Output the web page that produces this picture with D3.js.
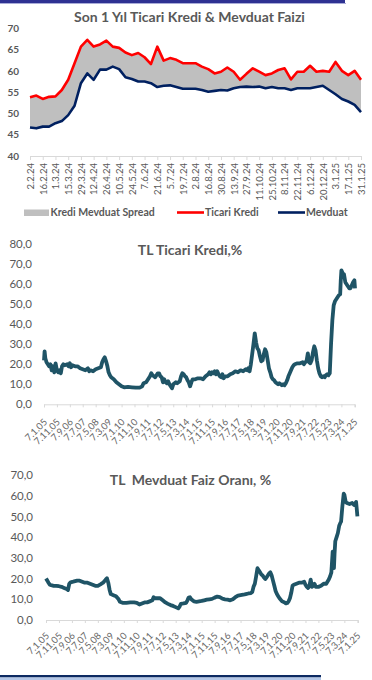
<!DOCTYPE html>
<html><head><meta charset="utf-8">
<script src="https://cdn.jsdelivr.net/npm/d3@7"></script>
<style>body{margin:0;background:#fff}svg{display:block}text{font-family:Lato,"Open Sans",sans-serif}</style>
</head><body><svg id="c" width="372" height="680"></svg>
<script>
// ---------- Chart 1: Son 1 Yıl ----------
const weekDates = ["2.2.24","9.2.24","16.2.24","23.2.24","1.3.24","8.3.24","15.3.24","22.3.24","29.3.24","5.4.24","12.4.24","19.4.24","26.4.24","3.5.24","10.5.24","17.5.24","24.5.24","31.5.24","7.6.24","14.6.24","21.6.24","28.6.24","5.7.24","12.7.24","19.7.24","26.7.24","2.8.24","9.8.24","16.8.24","23.8.24","30.8.24","6.9.24","13.9.24","20.9.24","27.9.24","4.10.24","11.10.24","18.10.24","25.10.24","1.11.24","8.11.24","15.11.24","22.11.24","29.11.24","6.12.24","13.12.24","20.12.24","27.12.24","3.1.25","10.1.25","17.1.25","24.1.25","31.1.25"];
const ticariKredi = [53.8,54.2,53.4,53.9,54.0,55.5,57.9,61.8,65.7,67.3,65.7,66.2,67.1,65.7,65.4,64.3,63.7,64.2,63.2,61.6,65.7,62.4,63.0,62.6,61.8,61.8,61.8,61.0,60.4,59.4,59.8,60.8,59.8,57.9,59.3,60.6,59.8,59.0,59.4,60.2,60.6,58.0,59.8,59.8,61.2,59.8,60.0,59.8,62.1,60.0,59.0,60.0,57.9];
const mevduat = [46.7,46.5,46.9,46.9,47.7,48.2,49.6,51.8,57.1,59.4,57.9,60.3,60.3,61.0,60.4,58.5,58.1,57.5,57.5,57.1,56.2,56.5,56.6,56.2,55.8,55.8,55.8,55.5,55.1,55.3,55.5,55.4,55.9,56.2,56.3,56.2,56.3,55.9,56.2,55.9,55.9,55.5,55.9,55.9,55.9,56.2,56.5,55.5,54.5,53.4,52.8,52.0,50.3];
const chart1YTicks = [40,45,50,55,60,65,70];
const chart1XTicks = weekDates.filter((d,i)=>i%2===0);
const legendLabels = ["Kredi Mevduat Spread","Ticari Kredi","Mevduat"];

// ---------- Chart 2: TL Ticari Kredi ----------
const krediDates = ["2005-01-07","2005-01-21","2005-02-07","2005-03-07","2005-04-07","2005-05-07","2005-06-07","2005-07-07","2005-08-07","2005-09-07","2005-10-07","2005-11-07","2005-12-07","2006-01-07","2006-02-07","2006-03-07","2006-04-07","2006-05-07","2006-07-07","2006-08-07","2006-09-07","2006-10-07","2006-11-07","2007-01-07","2007-03-07","2007-05-07","2007-07-07","2007-09-07","2007-11-07","2007-12-07","2008-01-07","2008-03-07","2008-05-07","2008-07-07","2008-09-07","2008-10-07","2008-11-07","2008-12-07","2009-01-07","2009-02-07","2009-03-07","2009-04-07","2009-05-07","2009-07-07","2009-09-07","2009-11-07","2010-01-07","2010-03-07","2010-06-07","2010-09-07","2010-12-07","2011-03-07","2011-05-07","2011-06-07","2011-08-07","2011-09-07","2011-11-07","2011-12-07","2012-01-07","2012-02-07","2012-03-07","2012-04-07","2012-05-07","2012-06-07","2012-07-07","2012-08-07","2012-09-07","2012-10-07","2012-11-07","2012-12-07","2013-01-07","2013-02-07","2013-03-07","2013-04-07","2013-05-07","2013-06-07","2013-07-07","2013-08-07","2013-09-07","2013-10-07","2013-11-07","2013-12-07","2014-01-07","2014-02-07","2014-03-07","2014-04-07","2014-05-07","2014-06-07","2014-07-07","2014-08-07","2014-10-07","2014-12-07","2015-02-07","2015-04-07","2015-06-07","2015-08-07","2015-09-07","2015-10-07","2015-11-07","2015-12-07","2016-01-07","2016-02-07","2016-03-07","2016-04-07","2016-05-07","2016-06-07","2016-07-07","2016-08-07","2016-09-07","2016-11-07","2017-01-07","2017-03-07","2017-05-07","2017-07-07","2017-09-07","2017-11-07","2018-01-07","2018-02-07","2018-03-07","2018-04-07","2018-05-07","2018-06-07","2018-07-07","2018-08-07","2018-09-07","2018-10-07","2018-11-07","2018-12-07","2019-01-07","2019-02-07","2019-03-07","2019-04-07","2019-05-07","2019-06-07","2019-07-07","2019-08-07","2019-09-07","2019-10-07","2019-11-07","2019-12-07","2020-01-07","2020-02-07","2020-03-07","2020-04-07","2020-05-07","2020-06-07","2020-07-07","2020-08-07","2020-09-07","2020-10-07","2020-11-07","2020-12-07","2021-01-07","2021-02-07","2021-03-07","2021-05-07","2021-07-07","2021-09-07","2021-10-07","2021-11-07","2021-12-07","2022-01-07","2022-02-07","2022-03-07","2022-04-07","2022-05-07","2022-06-07","2022-07-07","2022-08-07","2022-09-07","2022-10-07","2022-11-07","2022-12-07","2023-01-07","2023-02-07","2023-03-07","2023-04-07","2023-05-07","2023-06-07","2023-07-07","2023-08-07","2023-09-07","2023-10-07","2023-11-07","2023-12-07","2024-01-07","2024-02-07","2024-02-21","2024-03-07","2024-04-07","2024-05-07","2024-06-07","2024-07-07","2024-08-07","2024-09-07","2024-10-07","2024-11-07","2024-12-07","2025-01-07","2025-01-21"];
const krediValues = [22,26.5,23,21,20,19,20,17,19,16,20.5,17,16,17,15.5,19,20,19.5,20,19,20.5,18.5,19.5,19,19,18,17.5,17,18,16.5,17,16.5,17.5,18,18.5,21,22.5,23.5,21.5,19,16,14.5,13.5,12.5,11,10,9,8.5,8.7,8.5,8.3,8.3,9,10.5,11,12,14,15.5,14.5,14,13.5,14.5,15.5,15.5,14,13.5,11,12.5,11,10.5,11.5,10,9,8,10,10.5,11,10.5,11,11.5,14,15.5,15,14,13.5,12,11,9,11,12.5,12.5,13,13,12.5,14,15,16,15,16,15.5,16.5,15,16.5,15,14,13.5,15,13,14,14,15,15.5,16.5,16,17,16.5,17.5,17,18,16.5,20,25,30,35.5,31,28,27,24,21.5,22,25,27.5,26,22,18,16,13.5,12.5,12,11,10.5,10,10.5,10,9.5,10,9.5,10.5,12,14,15.5,17,18.5,19.5,20,20.5,20.5,21,20,21,21.5,25.5,21,20.5,22,26,29,27,22,18,15.5,14,13.5,14,13.5,14.5,15,14.5,15.5,30,42,49.5,51.5,52.5,53.5,54.5,55,62,67,65.5,65,61,60,59,58,58,59.5,61,62,58];

// ---------- Chart 3: TL Mevduat ----------
const mevduatDates = ["2005-01-07","2005-02-07","2005-03-07","2005-04-07","2005-05-07","2005-07-07","2005-09-07","2005-11-07","2006-01-07","2006-03-07","2006-05-07","2006-06-07","2006-07-07","2006-08-07","2006-10-07","2007-01-07","2007-03-07","2007-05-07","2007-07-07","2007-09-07","2007-11-07","2008-01-07","2008-03-07","2008-05-07","2008-07-07","2008-09-07","2008-11-07","2008-12-07","2009-01-07","2009-02-07","2009-03-07","2009-05-07","2009-07-07","2009-09-07","2009-10-07","2009-12-07","2010-03-07","2010-06-07","2010-09-07","2010-11-07","2011-01-07","2011-03-07","2011-05-07","2011-07-07","2011-09-07","2011-11-07","2011-12-07","2012-01-07","2012-03-07","2012-05-07","2012-07-07","2012-09-07","2012-11-07","2013-01-07","2013-03-07","2013-05-07","2013-07-07","2013-08-07","2013-09-07","2013-11-07","2014-01-07","2014-02-07","2014-03-07","2014-04-07","2014-05-07","2014-07-07","2014-09-07","2014-11-07","2015-01-07","2015-03-07","2015-05-07","2015-07-07","2015-09-07","2015-11-07","2016-01-07","2016-03-07","2016-05-07","2016-07-07","2016-09-07","2016-11-07","2017-01-07","2017-03-07","2017-05-07","2017-07-07","2017-09-07","2017-11-07","2018-01-07","2018-03-07","2018-04-07","2018-05-07","2018-06-07","2018-07-07","2018-08-07","2018-09-07","2018-10-07","2018-11-07","2018-12-07","2019-01-07","2019-02-07","2019-03-07","2019-04-07","2019-05-07","2019-06-07","2019-07-07","2019-08-07","2019-09-07","2019-10-07","2019-11-07","2019-12-07","2020-01-07","2020-03-07","2020-05-07","2020-06-07","2020-07-07","2020-08-07","2020-09-07","2020-10-07","2020-11-07","2020-12-07","2021-02-07","2021-04-07","2021-06-07","2021-08-07","2021-09-07","2021-10-07","2021-11-07","2021-12-07","2022-01-07","2022-02-07","2022-03-07","2022-04-07","2022-05-07","2022-07-07","2022-09-07","2022-11-07","2023-01-07","2023-03-07","2023-04-07","2023-05-07","2023-06-07","2023-06-17","2023-06-26","2023-07-07","2023-07-21","2023-08-07","2023-09-07","2023-10-07","2023-11-07","2023-12-07","2023-12-21","2024-01-21","2024-02-21","2024-03-07","2024-04-07","2024-05-07","2024-07-07","2024-09-07","2024-10-21","2024-11-21","2024-12-07","2024-12-21","2025-01-07"];
const mevduatValues = [20,19,18,17,16.8,16.5,16.5,16.3,16,15.5,15,14.5,17.5,18.2,18.5,19,19,18.5,18,18,17.5,17,16.5,16.5,17.2,18,19.5,20.2,18,14.5,12.5,12,11.5,10,8.8,8.3,8.3,8.5,8.5,8.3,7.5,8,8.5,8.5,9,9.5,11,10.5,10.5,10.5,9.5,8.5,7.8,7.2,6.8,6.2,5.6,6.5,7.8,8,8.3,9.5,10.8,11,10,9,8.8,9,9.2,9.5,9.8,10,10.2,10.8,11.3,11,10.3,10,9.8,9.5,10,11,11.8,12,12.2,12.5,12.8,13,13.5,16,17.5,21,25,24,23,22,21.5,20.5,19.8,20.5,21.5,22.5,23,21.5,19,16.5,14,12.5,11.5,10.5,9,8.5,8,8.2,9,10.5,13,16.5,17,17.5,18,18,18.5,17,16,15.5,16.5,19.5,16,16.5,17.5,16,16,16.5,17.5,17.5,19.5,21,23,33,26,31,25,32,38,40,42,45.5,47,47.5,55,61,60.5,57,56.5,56,56.5,55.5,56.5,57,54,50];

const longTickLabels = ["7.1.05","7.11.05","7.9.06","7.7.07","7.5.08","7.3.09","7.1.10","7.11.10","7.9.11","7.7.12","7.5.13","7.3.14","7.1.15","7.11.15","7.9.16","7.7.17","7.5.18","7.3.19","7.1.20","7.11.20","7.9.21","7.7.22","7.5.23","7.3.24","7.1.25"];
const krediYTicks = [0,10,20,30,40,50,60,70,80];
const mevduatYTicks = [0,10,20,30,40,50,60,70];

const svg = d3.select("#c");
const grey = "#595959";
const teal = "#1f5466";

// decorative bars
svg.append("rect").attr("x",0).attr("y",0).attr("width",345).attr("height",3).attr("fill","#2e3192");
svg.append("rect").attr("x",0).attr("y",3).attr("width",346).attr("height",1).attr("fill","#a9acd8");
svg.append("rect").attr("x",0).attr("y",675).attr("width",321).attr("height",2.5).attr("fill","#0c2a62");
svg.append("rect").attr("x",0).attr("y",677.5).attr("width",321).attr("height",2.5).attr("fill","#b4c7e7");

// ===== Chart 1 =====
{
  const g = svg.append("g");
  const x = d3.scalePoint().domain(weekDates).range([30,361]);
  const y = d3.scaleLinear().domain([40,70]).range([156,28.3]);
  g.append("text").attr("x",189.5).attr("y",22).attr("text-anchor","middle")
    .attr("font-size",14).attr("font-weight","bold").attr("fill",grey)
    .text("Son 1 Yıl Ticari Kredi & Mevduat Faizi");
  const idx = d3.range(weekDates.length);
  g.append("path").datum(idx)
    .attr("d", d3.area().x(i=>x(weekDates[i])).y0(i=>y(mevduat[i])).y1(i=>y(ticariKredi[i])))
    .attr("fill","#bfbfbf");
  const xa = g.append("g").attr("transform","translate(0,156)")
    .call(d3.axisBottom(x).tickValues(chart1XTicks).tickSize(4).tickFormat(d=>d));
  xa.select(".domain").attr("stroke","#d9d9d9");
  xa.selectAll(".tick line").attr("stroke","#d9d9d9");
  xa.selectAll(".tick text").attr("font-size",9.5).attr("fill",grey)
    .attr("font-family","Lato,sans-serif")
    .attr("text-anchor","end").attr("transform","translate(0,0) rotate(-90)")
    .attr("x",-7).attr("y",0).attr("dy","0.35em");
  const ya = g.append("g").attr("transform","translate(19,0)")
    .call(d3.axisLeft(y).tickValues(chart1YTicks).tickSize(0).tickPadding(0));
  ya.select(".domain").remove();
  ya.selectAll(".tick text").attr("font-size",10).attr("font-weight","bold").attr("fill",grey).attr("font-family","Lato,sans-serif");
  g.append("path").datum(idx).attr("fill","none").attr("stroke","#ff0000").attr("stroke-width",2.6)
    .attr("stroke-linejoin","round")
    .attr("d", d3.line().x(i=>x(weekDates[i])).y(i=>y(ticariKredi[i])));
  g.append("path").datum(idx).attr("fill","none").attr("stroke","#002060").attr("stroke-width",2.6)
    .attr("stroke-linejoin","round")
    .attr("d", d3.line().x(i=>x(weekDates[i])).y(i=>y(mevduat[i])));
  // legend
  const lg = g.append("g").attr("font-size",10.5).attr("font-weight","bold").attr("fill",grey);
  lg.append("rect").attr("x",24).attr("y",209.5).attr("width",25).attr("height",6.5).attr("fill","#bfbfbf");
  lg.append("text").attr("x",50.5).attr("y",216).text(legendLabels[0]);
  lg.append("line").attr("x1",177).attr("x2",204).attr("y1",212.5).attr("y2",212.5).attr("stroke","#ff0000").attr("stroke-width",2.6);
  lg.append("text").attr("x",205).attr("y",216).text(legendLabels[1]);
  lg.append("line").attr("x1",278).attr("x2",305).attr("y1",212.5).attr("y2",212.5).attr("stroke","#002060").attr("stroke-width",2.6);
  lg.append("text").attr("x",306).attr("y",216).text(legendLabels[2]);
}

// ===== Long charts =====
const parseD = d3.timeParse("%Y-%m-%d");
const parseT = d3.timeParse("%d.%m.%y");
function longChart(opts){
  const g = svg.append("g");
  const x = d3.scaleTime().domain([parseD("2005-01-07"), parseD("2025-01-21")]).range(opts.xr);
  const y = d3.scaleLinear().domain(opts.yd).range(opts.yr);
  g.append("text").attr("x",opts.tx).attr("y",opts.ty).attr("text-anchor","middle")
    .attr("font-size",14).attr("font-weight","bold").attr("fill",grey)
    .attr("xml:space","preserve").style("white-space","pre").text(opts.title);
  const ya = g.append("g").attr("transform",`translate(${opts.yx},0)`)
    .call(d3.axisLeft(y).tickValues(opts.yt).tickSize(0).tickPadding(0).tickFormat(d=>d3.format(".1f")(d).replace(".",",")));
  ya.select(".domain").remove();
  ya.selectAll(".tick text").attr("font-size",11.5).attr("fill",grey).attr("font-family","Lato,sans-serif");
  const ticks = longTickLabels.map(parseT);
  const xa = g.append("g").attr("transform",`translate(0,${opts.yr[0]})`)
    .call(d3.axisBottom(x).tickValues(ticks).tickSize(3).tickFormat((d,i)=>longTickLabels[i]));
  xa.select(".domain").attr("stroke","#d9d9d9");
  xa.selectAll(".tick line").attr("stroke","#d9d9d9");
  xa.selectAll(".tick text").attr("font-size",9.5).attr("fill","#666666").attr("font-family","Lato,sans-serif")
    .attr("text-anchor","end").attr("x",0).attr("y",0).attr("dy","0.35em")
    .attr("transform",`translate(1,${opts.lblOff}) rotate(-45)`);
  const dates = opts.dates.map(parseD);
  g.append("path").datum(d3.range(dates.length)).attr("fill","none").attr("stroke",teal)
    .attr("stroke-width",3.8).attr("stroke-linejoin","round")
    .attr("d", d3.line().x(i=>x(dates[i])).y(i=>y(opts.values[i])));
}
longChart({xr:[44,355], yd:[0,80], yr:[404.3,244.3], yt:krediYTicks, yx:32, lblOff:16,
  title:"TL Ticari Kredi,%", tx:190, ty:254.5, dates:krediDates, values:krediValues});
longChart({xr:[46,358], yd:[0,70], yr:[620,475], yt:mevduatYTicks, yx:33, lblOff:14,
  title:"TL  Mevduat Faiz Oranı, %", tx:190.5, ty:485, dates:mevduatDates, values:mevduatValues});
</script></body></html>
